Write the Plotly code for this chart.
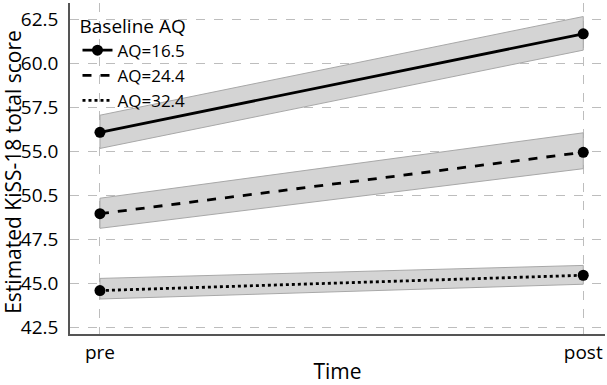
import plotly.graph_objects as go

# ---- data ----
time_labels = ["pre", "post"]
groups = ["AQ=16.5", "AQ=24.4", "AQ=32.4"]
est_aq165 = [56.10, 61.70]
lo_aq165 = [55.18, 60.77]
hi_aq165 = [57.07, 62.68]
est_aq244 = [51.47, 54.96]
lo_aq244 = [50.64, 54.03]
hi_aq244 = [52.35, 56.07]
est_aq324 = [47.10, 47.97]
lo_aq324 = [46.62, 47.46]
hi_aq324 = [47.79, 48.53]
ytick_vals = [45.0, 47.5, 50.0, 52.5, 55.0, 57.5, 60.0, 62.5]
ytick_text = ["42.5", "45.0", "47.5", "50.5", "55.0", "57.5", "60.0", "62.5"]
y_title = "Estimated KiSS-18 total score"
x_title = "Time"

FONT = "Open Sans"
xpos = [0, 1]

series = [
    (groups[0], est_aq165, lo_aq165, hi_aq165, "solid", True),
    (groups[1], est_aq244, lo_aq244, hi_aq244, "dash", False),
    (groups[2], est_aq324, lo_aq324, hi_aq324, "dot", False),
]

fig = go.Figure()

for name, est, lo, hi, dash, legmarker in series:
    fig.add_trace(go.Scatter(
        x=[xpos[0], xpos[1], xpos[1], xpos[0], xpos[0]],
        y=[lo[0], lo[1], hi[1], hi[0], lo[0]],
        fill="toself", fillcolor="#d4d4d4",
        line=dict(color="#a8a8a8", width=1),
        mode="lines", showlegend=False, hoverinfo="skip"))

for name, est, lo, hi, dash, legmarker in series:
    fig.add_trace(go.Scatter(
        x=xpos, y=est, name=name,
        mode="lines+markers" if legmarker else "lines",
        line=dict(color="black", width=2.8, dash=dash),
        marker=dict(color="black", size=11),
        showlegend=True))
    if not legmarker:
        fig.add_trace(go.Scatter(
            x=xpos, y=est, mode="markers",
            marker=dict(color="black", size=11),
            showlegend=False))

fig.update_layout(
    width=607, height=385,
    margin=dict(l=70, r=2, t=3, b=45),
    paper_bgcolor="white", plot_bgcolor="white",
    font=dict(family=FONT, size=17, color="black"),
    legend=dict(
        title=dict(text="Baseline AQ", font=dict(size=19, family=FONT)),
        x=0.014, y=0.985, xanchor="left", yanchor="top",
        bgcolor="rgba(0,0,0,0)", font=dict(size=17, family=FONT),
        tracegroupgap=0, itemwidth=30),
    annotations=[dict(
        text=y_title, textangle=-90, showarrow=False,
        xref="paper", yref="paper", x=-0.1065, y=0.49,
        xanchor="center", yanchor="middle",
        font=dict(size=21, family=FONT, color="black"))],
)

fig.update_xaxes(
    range=[-0.062, 1.045],
    tickvals=xpos, ticktext=time_labels,
    showgrid=True, gridcolor="#bdbdbd", griddash="dash", gridwidth=1,
    showline=True, linecolor="#555555", linewidth=1.5,
    ticks="", zeroline=False,
    tickfont=dict(size=19, family=FONT),
    title=dict(text=x_title, font=dict(size=21, family=FONT), standoff=4),
)
fig.update_yaxes(
    range=[44.63, 63.45],
    tickvals=ytick_vals, ticktext=ytick_text,
    showgrid=True, gridcolor="#bdbdbd", griddash="dash", gridwidth=1,
    showline=True, linecolor="#555555", linewidth=1.5,
    ticks="", zeroline=False, ticklabelstandoff=6,
    tickfont=dict(size=19, family=FONT),
)

fig.write_html("out.html")
